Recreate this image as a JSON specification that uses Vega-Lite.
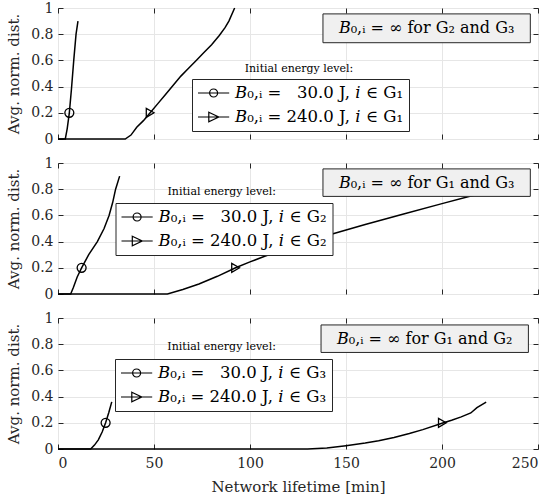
{
  "$schema": "https://vega.github.io/schema/vega-lite/v6.json",
  "padding": {"top": 0, "left": 6, "right": 0, "bottom": 0},
  "background": "white",
  "spacing": 8,
  "datasets": {
    "one": [{}],
    "curves": [
      {"g": "G1", "s": "30", "x": 0, "y": 0},
      {"g": "G1", "s": "30", "x": 3.8, "y": 0},
      {"g": "G1", "s": "30", "x": 4.8, "y": 0.08},
      {"g": "G1", "s": "30", "x": 5.9, "y": 0.2},
      {"g": "G1", "s": "30", "x": 7, "y": 0.38},
      {"g": "G1", "s": "30", "x": 8.2, "y": 0.6},
      {"g": "G1", "s": "30", "x": 9.4, "y": 0.8},
      {"g": "G1", "s": "30", "x": 10.4, "y": 0.9},
      {"g": "G1", "s": "240", "x": 0, "y": 0},
      {"g": "G1", "s": "240", "x": 35, "y": 0},
      {"g": "G1", "s": "240", "x": 38, "y": 0.03},
      {"g": "G1", "s": "240", "x": 41, "y": 0.09},
      {"g": "G1", "s": "240", "x": 44.5, "y": 0.14},
      {"g": "G1", "s": "240", "x": 48, "y": 0.2},
      {"g": "G1", "s": "240", "x": 52, "y": 0.27},
      {"g": "G1", "s": "240", "x": 56, "y": 0.34},
      {"g": "G1", "s": "240", "x": 60, "y": 0.41},
      {"g": "G1", "s": "240", "x": 64, "y": 0.48},
      {"g": "G1", "s": "240", "x": 68, "y": 0.54},
      {"g": "G1", "s": "240", "x": 72, "y": 0.6},
      {"g": "G1", "s": "240", "x": 76, "y": 0.66},
      {"g": "G1", "s": "240", "x": 80, "y": 0.72},
      {"g": "G1", "s": "240", "x": 84, "y": 0.79},
      {"g": "G1", "s": "240", "x": 87, "y": 0.85},
      {"g": "G1", "s": "240", "x": 89, "y": 0.9},
      {"g": "G1", "s": "240", "x": 92, "y": 1.0},
      {"g": "G2", "s": "30", "x": 0, "y": 0},
      {"g": "G2", "s": "30", "x": 6.6, "y": 0},
      {"g": "G2", "s": "30", "x": 8, "y": 0.05},
      {"g": "G2", "s": "30", "x": 10, "y": 0.13},
      {"g": "G2", "s": "30", "x": 12.3, "y": 0.2},
      {"g": "G2", "s": "30", "x": 16, "y": 0.3},
      {"g": "G2", "s": "30", "x": 20.5, "y": 0.4},
      {"g": "G2", "s": "30", "x": 24, "y": 0.5},
      {"g": "G2", "s": "30", "x": 26.6, "y": 0.6},
      {"g": "G2", "s": "30", "x": 28.5, "y": 0.7},
      {"g": "G2", "s": "30", "x": 30, "y": 0.8},
      {"g": "G2", "s": "30", "x": 32.1, "y": 0.9},
      {"g": "G2", "s": "240", "x": 0, "y": 0},
      {"g": "G2", "s": "240", "x": 57, "y": 0},
      {"g": "G2", "s": "240", "x": 65, "y": 0.035},
      {"g": "G2", "s": "240", "x": 73.4, "y": 0.076},
      {"g": "G2", "s": "240", "x": 83, "y": 0.135},
      {"g": "G2", "s": "240", "x": 92.5, "y": 0.2},
      {"g": "G2", "s": "240", "x": 100, "y": 0.245},
      {"g": "G2", "s": "240", "x": 108, "y": 0.29},
      {"g": "G2", "s": "240", "x": 120, "y": 0.35},
      {"g": "G2", "s": "240", "x": 141, "y": 0.45},
      {"g": "G2", "s": "240", "x": 160, "y": 0.53},
      {"g": "G2", "s": "240", "x": 180, "y": 0.61},
      {"g": "G2", "s": "240", "x": 200, "y": 0.69},
      {"g": "G2", "s": "240", "x": 214, "y": 0.745},
      {"g": "G2", "s": "240", "x": 230, "y": 0.8},
      {"g": "G3", "s": "30", "x": 0, "y": 0},
      {"g": "G3", "s": "30", "x": 17, "y": 0},
      {"g": "G3", "s": "30", "x": 19, "y": 0.03},
      {"g": "G3", "s": "30", "x": 21, "y": 0.07},
      {"g": "G3", "s": "30", "x": 23, "y": 0.13},
      {"g": "G3", "s": "30", "x": 24.8, "y": 0.2},
      {"g": "G3", "s": "30", "x": 26.5, "y": 0.28},
      {"g": "G3", "s": "30", "x": 28, "y": 0.36},
      {"g": "G3", "s": "240", "x": 0, "y": 0},
      {"g": "G3", "s": "240", "x": 130, "y": 0},
      {"g": "G3", "s": "240", "x": 140, "y": 0.007},
      {"g": "G3", "s": "240", "x": 150, "y": 0.025},
      {"g": "G3", "s": "240", "x": 160, "y": 0.045},
      {"g": "G3", "s": "240", "x": 167, "y": 0.063},
      {"g": "G3", "s": "240", "x": 175, "y": 0.088},
      {"g": "G3", "s": "240", "x": 183, "y": 0.118},
      {"g": "G3", "s": "240", "x": 190, "y": 0.148},
      {"g": "G3", "s": "240", "x": 200, "y": 0.197},
      {"g": "G3", "s": "240", "x": 205, "y": 0.22},
      {"g": "G3", "s": "240", "x": 210, "y": 0.245},
      {"g": "G3", "s": "240", "x": 215, "y": 0.275},
      {"g": "G3", "s": "240", "x": 218.2, "y": 0.316},
      {"g": "G3", "s": "240", "x": 223, "y": 0.358}
    ],
    "marks": [
      {"g": "G1", "s": "30", "x": 5.9, "y": 0.2, "label": "𝐵₀,ᵢ = \u200730.0 J, 𝑖 ∈ G₁"},
      {"g": "G1", "s": "240", "x": 48, "y": 0.2, "label": "𝐵₀,ᵢ = 240.0 J, 𝑖 ∈ G₁"},
      {"g": "G2", "s": "30", "x": 12.3, "y": 0.2, "label": "𝐵₀,ᵢ = \u200730.0 J, 𝑖 ∈ G₂"},
      {"g": "G2", "s": "240", "x": 92.5, "y": 0.2, "label": "𝐵₀,ᵢ = 240.0 J, 𝑖 ∈ G₂"},
      {"g": "G3", "s": "30", "x": 24.8, "y": 0.2, "label": "𝐵₀,ᵢ = \u200730.0 J, 𝑖 ∈ G₃"},
      {"g": "G3", "s": "240", "x": 200.2, "y": 0.2, "label": "𝐵₀,ᵢ = 240.0 J, 𝑖 ∈ G₃"}
    ]
  },
  "resolve": {"scale": {"shape": "independent"}, "legend": {"shape": "independent"}},
  "vconcat": [
    {
      "width": 480, "height": 131,
      "resolve": {"scale": {"shape": "independent"}, "axis": {"x": "independent", "y": "independent"}},
      "layer": [
        {
          "data": {"name": "curves"},
          "transform": [{"filter": "datum.g == 'G1'"}],
          "mark": {"type": "line", "color": "black", "strokeWidth": 1.5},
          "encoding": {
            "x": {"field": "x", "type": "quantitative", "scale": {"domain": [0, 250], "nice": false}, "axis": {"values": [0, 50, 100, 150, 200, 250], "labels": false, "title": null}},
            "y": {"field": "y", "type": "quantitative", "scale": {"domain": [0, 1], "nice": false}, "axis": {"values": [0, 0.2, 0.4, 0.6, 0.8, 1], "format": "~g", "title": "Avg. norm. dist."}},
            "detail": {"field": "s"}
          }
        },
        {
          "data": {"name": "marks"},
          "transform": [{"filter": "datum.g == 'G1'"}],
          "mark": {"type": "point", "filled": false, "color": "black", "size": 80, "strokeWidth": 1.3, "opacity": 1},
          "encoding": {
            "x": {"field": "x", "type": "quantitative", "axis": null},
            "y": {"field": "y", "type": "quantitative", "axis": null},
            "shape": {"field": "s", "type": "nominal", "scale": {"domain": ["30", "240"], "range": ["circle", "triangle-right"]}, "legend": null}
          }
        },
        {
          "data": {"name": "marks"},
          "transform": [{"filter": "datum.g == 'G1'"}],
          "mark": {"type": "point", "filled": false, "color": "black", "opacity": 0},
          "encoding": {
            "x": {"field": "x", "type": "quantitative", "axis": {"orient": "top", "values": [0, 50, 100, 150, 200, 250], "labels": false, "grid": false, "title": null}},
            "y": {"field": "y", "type": "quantitative", "axis": {"orient": "right", "values": [0, 0.2, 0.4, 0.6, 0.8, 1], "labels": false, "grid": false, "title": null}},
            "shape": {"field": "label", "type": "nominal", "sort": null,
              "scale": {"range": ["M-1,0L2.9,0M0.45,0A0.5,0.5 0 1,0 1.45,0A0.5,0.5 0 1,0 0.45,0Z", "M-1,0L2.9,0M0.35,-0.6L1.6,0L0.35,0.6Z"]},
              "legend": {"orient": "none", "legendX": 134, "legendY": 71, "title": null}}
          }
        },
        {
          "data": {"name": "one"},
          "mark": {"type": "rect", "fill": "#f0f0f0", "stroke": "#262626", "strokeWidth": 1},
          "encoding": {
            "x": {"datum": 138, "type": "quantitative", "axis": null}, "x2": {"datum": 246},
            "y": {"datum": 0.955, "type": "quantitative", "axis": null}, "y2": {"datum": 0.735}
          }
        },
        {
          "data": {"name": "one"},
          "mark": {"type": "text", "fontSize": 16, "color": "black"},
          "encoding": {
            "x": {"datum": 192, "type": "quantitative", "axis": null},
            "y": {"datum": 0.845, "type": "quantitative", "axis": null},
            "text": {"value": "𝐵₀,ᵢ = ∞ for G₂ and G₃"}
          }
        },
        {
          "data": {"name": "one"},
          "mark": {"type": "text", "fontSize": 11, "color": "black"},
          "encoding": {
            "x": {"datum": 125.5, "type": "quantitative", "axis": null},
            "y": {"datum": 0.535, "type": "quantitative", "axis": null},
            "text": {"value": "Initial energy level:"}
          }
        }
      ]
    },
    {
      "width": 480, "height": 131,
      "resolve": {"scale": {"shape": "independent"}, "axis": {"x": "independent", "y": "independent"}},
      "layer": [
        {
          "data": {"name": "curves"},
          "transform": [{"filter": "datum.g == 'G2'"}],
          "mark": {"type": "line", "color": "black", "strokeWidth": 1.5},
          "encoding": {
            "x": {"field": "x", "type": "quantitative", "scale": {"domain": [0, 250], "nice": false}, "axis": {"values": [0, 50, 100, 150, 200, 250], "labels": false, "title": null}},
            "y": {"field": "y", "type": "quantitative", "scale": {"domain": [0, 1], "nice": false}, "axis": {"values": [0, 0.2, 0.4, 0.6, 0.8, 1], "format": "~g", "title": "Avg. norm. dist."}},
            "detail": {"field": "s"}
          }
        },
        {
          "data": {"name": "marks"},
          "transform": [{"filter": "datum.g == 'G2'"}],
          "mark": {"type": "point", "filled": false, "color": "black", "size": 80, "strokeWidth": 1.3, "opacity": 1},
          "encoding": {
            "x": {"field": "x", "type": "quantitative", "axis": null},
            "y": {"field": "y", "type": "quantitative", "axis": null},
            "shape": {"field": "s", "type": "nominal", "scale": {"domain": ["30", "240"], "range": ["circle", "triangle-right"]}, "legend": null}
          }
        },
        {
          "data": {"name": "marks"},
          "transform": [{"filter": "datum.g == 'G2'"}],
          "mark": {"type": "point", "filled": false, "color": "black", "opacity": 0},
          "encoding": {
            "x": {"field": "x", "type": "quantitative", "axis": {"orient": "top", "values": [0, 50, 100, 150, 200, 250], "labels": false, "grid": false, "title": null}},
            "y": {"field": "y", "type": "quantitative", "axis": {"orient": "right", "values": [0, 0.2, 0.4, 0.6, 0.8, 1], "labels": false, "grid": false, "title": null}},
            "shape": {"field": "label", "type": "nominal", "sort": null,
              "scale": {"range": ["M-1,0L2.9,0M0.45,0A0.5,0.5 0 1,0 1.45,0A0.5,0.5 0 1,0 0.45,0Z", "M-1,0L2.9,0M0.35,-0.6L1.6,0L0.35,0.6Z"]},
              "legend": {"orient": "none", "legendX": 57.5, "legendY": 40, "title": null}}
          }
        },
        {
          "data": {"name": "one"},
          "mark": {"type": "rect", "fill": "#f0f0f0", "stroke": "#262626", "strokeWidth": 1},
          "encoding": {
            "x": {"datum": 138, "type": "quantitative", "axis": null}, "x2": {"datum": 246},
            "y": {"datum": 0.955, "type": "quantitative", "axis": null}, "y2": {"datum": 0.745}
          }
        },
        {
          "data": {"name": "one"},
          "mark": {"type": "text", "fontSize": 16, "color": "black"},
          "encoding": {
            "x": {"datum": 192, "type": "quantitative", "axis": null},
            "y": {"datum": 0.85, "type": "quantitative", "axis": null},
            "text": {"value": "𝐵₀,ᵢ = ∞ for G₁ and G₃"}
          }
        },
        {
          "data": {"name": "one"},
          "mark": {"type": "text", "fontSize": 11, "color": "black"},
          "encoding": {
            "x": {"datum": 85.3, "type": "quantitative", "axis": null},
            "y": {"datum": 0.775, "type": "quantitative", "axis": null},
            "text": {"value": "Initial energy level:"}
          }
        }
      ]
    },
    {
      "width": 480, "height": 131,
      "resolve": {"scale": {"shape": "independent"}, "axis": {"x": "independent", "y": "independent"}},
      "layer": [
        {
          "data": {"name": "curves"},
          "transform": [{"filter": "datum.g == 'G3'"}],
          "mark": {"type": "line", "color": "black", "strokeWidth": 1.5},
          "encoding": {
            "x": {"field": "x", "type": "quantitative", "scale": {"domain": [0, 250], "nice": false}, "axis": {"values": [0, 50, 100, 150, 200, 250], "title": "Network lifetime [min]"}},
            "y": {"field": "y", "type": "quantitative", "scale": {"domain": [0, 1], "nice": false}, "axis": {"values": [0, 0.2, 0.4, 0.6, 0.8, 1], "format": "~g", "title": "Avg. norm. dist."}},
            "detail": {"field": "s"}
          }
        },
        {
          "data": {"name": "marks"},
          "transform": [{"filter": "datum.g == 'G3'"}],
          "mark": {"type": "point", "filled": false, "color": "black", "size": 80, "strokeWidth": 1.3, "opacity": 1},
          "encoding": {
            "x": {"field": "x", "type": "quantitative", "axis": null},
            "y": {"field": "y", "type": "quantitative", "axis": null},
            "shape": {"field": "s", "type": "nominal", "scale": {"domain": ["30", "240"], "range": ["circle", "triangle-right"]}, "legend": null}
          }
        },
        {
          "data": {"name": "marks"},
          "transform": [{"filter": "datum.g == 'G3'"}],
          "mark": {"type": "point", "filled": false, "color": "black", "opacity": 0},
          "encoding": {
            "x": {"field": "x", "type": "quantitative", "axis": {"orient": "top", "values": [0, 50, 100, 150, 200, 250], "labels": false, "grid": false, "title": null}},
            "y": {"field": "y", "type": "quantitative", "axis": {"orient": "right", "values": [0, 0.2, 0.4, 0.6, 0.8, 1], "labels": false, "grid": false, "title": null}},
            "shape": {"field": "label", "type": "nominal", "sort": null,
              "scale": {"range": ["M-1,0L2.9,0M0.45,0A0.5,0.5 0 1,0 1.45,0A0.5,0.5 0 1,0 0.45,0Z", "M-1,0L2.9,0M0.35,-0.6L1.6,0L0.35,0.6Z"]},
              "legend": {"orient": "none", "legendX": 57, "legendY": 41, "title": null}}
          }
        },
        {
          "data": {"name": "one"},
          "mark": {"type": "rect", "fill": "#f0f0f0", "stroke": "#262626", "strokeWidth": 1},
          "encoding": {
            "x": {"datum": 137, "type": "quantitative", "axis": null}, "x2": {"datum": 245},
            "y": {"datum": 0.947, "type": "quantitative", "axis": null}, "y2": {"datum": 0.737}
          }
        },
        {
          "data": {"name": "one"},
          "mark": {"type": "text", "fontSize": 16, "color": "black"},
          "encoding": {
            "x": {"datum": 191, "type": "quantitative", "axis": null},
            "y": {"datum": 0.842, "type": "quantitative", "axis": null},
            "text": {"value": "𝐵₀,ᵢ = ∞ for G₁ and G₂"}
          }
        },
        {
          "data": {"name": "one"},
          "mark": {"type": "text", "fontSize": 11, "color": "black"},
          "encoding": {
            "x": {"datum": 85.2, "type": "quantitative", "axis": null},
            "y": {"datum": 0.78, "type": "quantitative", "axis": null},
            "text": {"value": "Initial energy level:"}
          }
        }
      ]
    }
  ],
  "config": {
    "font": "DejaVu Serif",
    "view": {"stroke": "#262626", "strokeWidth": 1},
    "axis": {
      "domain": false,
      "gridColor": "#e6e6e6",
      "gridWidth": 1,
      "tickColor": "#262626",
      "tickSize": -5,
      "labelColor": "#262626",
      "titleColor": "#262626",
      "labelFont": "DejaVu Serif",
      "titleFont": "DejaVu Serif",
      "labelFontSize": 14,
      "titleFontSize": 15,
      "titleFontWeight": "normal"
    },
    "axisX": {"labelPadding": 12, "titlePadding": 9},
    "axisY": {"labelPadding": 10, "titlePadding": 9},
    "legend": {
      "labelFont": "DejaVu Serif",
      "labelFontSize": 16.5,
      "labelColor": "black",
      "symbolSize": 256,
      "symbolStrokeColor": "black",
      "symbolFillColor": "transparent",
      "symbolStrokeWidth": 1.2,
      "symbolOpacity": 1,
      "strokeColor": "#262626",
      "fillColor": "white",
      "padding": 5,
      "rowPadding": 6,
      "labelOffset": 20,
      "zindex": 1,
      "labelLimit": 400
    }
  }
}
